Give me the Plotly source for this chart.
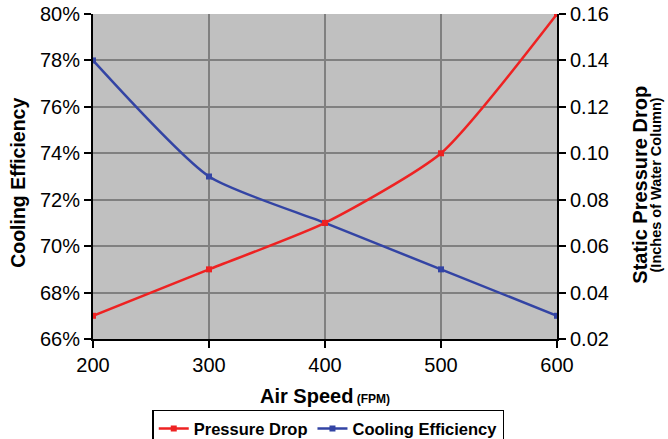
import plotly.graph_objects as go

air_speed = [200, 300, 400, 500, 600]
cooling_eff = [78, 73, 71, 69, 67]          # percent
pressure_drop = [0.03, 0.05, 0.07, 0.10, 0.16]  # inches of water column

left_ticks = [66, 68, 70, 72, 74, 76, 78, 80]
left_labels = [f"{v}%" for v in left_ticks]
right_ticks = [0.02, 0.04, 0.06, 0.08, 0.10, 0.12, 0.14, 0.16]
right_labels = [f"{v:.2f}" for v in right_ticks]

RED = "#EE2222"
BLUE = "#3344A4"
FONT = "Liberation Sans, Arial, sans-serif"

fig = go.Figure()
fig.add_trace(go.Scatter(
    x=air_speed, y=pressure_drop, yaxis="y2", name="Pressure Drop",
    mode="lines+markers", line=dict(color=RED, width=2.5, shape="spline", smoothing=0.6),
    marker=dict(symbol="square", size=6, color=RED)))
fig.add_trace(go.Scatter(
    x=air_speed, y=cooling_eff, name="Cooling Efficiency",
    mode="lines+markers", line=dict(color=BLUE, width=2.5, shape="spline", smoothing=0.6),
    marker=dict(symbol="square", size=6, color=BLUE)))

axis_common = dict(ticks="outside", ticklen=7, tickwidth=2, tickcolor="black",
                   showline=True, linecolor="black", linewidth=2, zeroline=False,
                   tickfont=dict(size=20), ticklabeloverflow="allow")

fig.update_layout(
    width=668, height=439,
    margin=dict(l=93, r=111, t=14, b=100, autoexpand=False),
    paper_bgcolor="white", plot_bgcolor="#C0C0C0",
    font=dict(family=FONT, size=20, color="black"),
    showlegend=True,
    legend=dict(orientation="h", x=0.507, xanchor="center", y=-0.218, yanchor="top",
                bordercolor="black", borderwidth=1.5, bgcolor="white",
                font=dict(family=FONT, size=16.5, weight="bold"),
                itemwidth=30, traceorder="normal"),
    xaxis=dict(range=[200, 600], tickvals=air_speed, showgrid=True,
               gridcolor="#808080", gridwidth=2, **axis_common),
    yaxis=dict(range=[66, 80], tickvals=left_ticks, ticktext=left_labels,
               showgrid=True, gridcolor="#808080", gridwidth=2, **axis_common),
    yaxis2=dict(range=[0.02, 0.16], tickvals=right_ticks, ticktext=right_labels,
                overlaying="y", side="right", showgrid=False, **axis_common),
)

fig.add_annotation(text="<b>Cooling Efficiency</b>", xref="paper", yref="paper",
                   x=-0.162, y=0.48, textangle=-90, showarrow=False,
                   font=dict(family=FONT, size=19.5), xanchor="center", yanchor="middle")
fig.add_annotation(text="<b>Static Pressure Drop</b>", xref="paper", yref="paper",
                   x=1.179, y=0.475, textangle=-90, showarrow=False,
                   font=dict(family=FONT, size=20), xanchor="center", yanchor="middle")
fig.add_annotation(text="<b>(Inches of Water Column)</b>", xref="paper", yref="paper",
                   x=1.213, y=0.475, textangle=-90, showarrow=False,
                   font=dict(family=FONT, size=14.5), xanchor="center", yanchor="middle")
fig.add_annotation(text="<b>Air Speed</b><b><span style='font-size:12px'> (FPM)</span></b>",
                   xref="paper", yref="paper", x=0.501, y=-0.176, showarrow=False,
                   font=dict(family=FONT, size=20), xanchor="center", yanchor="middle")

fig.write_html("out.html", config={"displayModeBar": False},
               post_script="document.body.style.margin='0';")
